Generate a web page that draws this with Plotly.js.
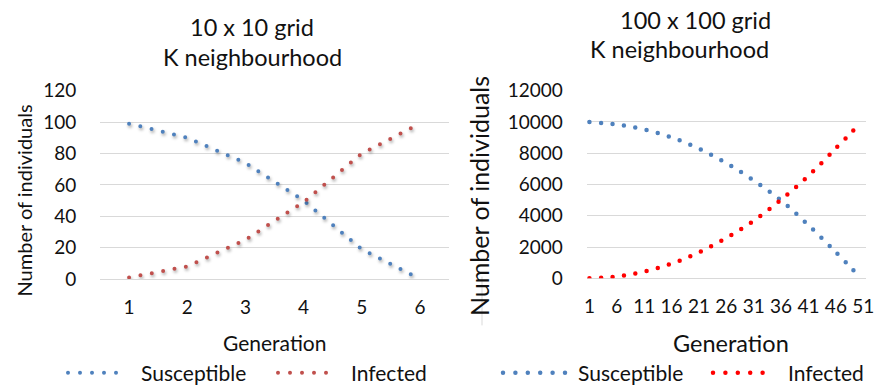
<!DOCTYPE html>
<html>
<head>
<meta charset="utf-8">
<script src="https://cdn.plot.ly/plotly-3.0.1.min.js"></script>
<style>
  html, body { margin: 0; padding: 0; background: #fff; }
  #chart { width: 883px; height: 387px; }
  .scatterlayer path.js-line, .shapelayer path { stroke-linecap: round; }
  .subplot.xy .scatterlayer .trace { filter: drop-shadow(1.5px 2.5px 1.5px rgba(0,0,0,0.35)); }
</style>
</head>
<body>
<div id="chart"></div>
<script>
// Left chart: 10 x 10 grid
const genSmall = [1, 2, 3, 4, 5, 6];
const susceptibleSmall = [99, 90, 74, 50, 19, 0];
const infectedSmall = [1, 8, 25, 49, 80, 99];
const ticksSmall = [1, 2, 3, 4, 5, 6];

// Right chart: 100 x 100 grid
const genLarge = [1, 6, 11, 16, 21, 26, 31, 36, 41, 46, 50];
const susceptibleLarge = [9990, 9840, 9517, 9016, 8290, 7373, 6260, 4981, 3394, 1667, 220];
const infectedLarge = [10, 114, 435, 936, 1663, 2579, 3680, 5026, 6558, 8321, 9753];
const ticksLarge = [1, 6, 11, 16, 21, 26, 31, 36, 41, 46, 51];

const seriesNames = ['Susceptible', 'Infected'];

const W = 883, H = 387;
const px = v => v / W;
const py = v => (H - v) / H;
const FONT = 'Lato, "Open Sans", sans-serif';
const BLUE = '#4F81BD', RED_L = '#C0504D', RED_R = '#FF0000';
const GRID = '#D9D9D9';
const CLEAR = 'rgba(0,0,0,0)';
const TXT = '#111';
const DOTS = '0px,11.55px';

const traces = [
  {x: genSmall, y: susceptibleSmall, name: seriesNames[0], type: 'scatter', mode: 'lines',
   line: {color: BLUE, width: 4, dash: DOTS}, xaxis: 'x', yaxis: 'y'},
  {x: genSmall, y: infectedSmall, name: seriesNames[1], type: 'scatter', mode: 'lines',
   line: {color: RED_L, width: 4, dash: DOTS}, xaxis: 'x', yaxis: 'y'},
  {x: genLarge, y: susceptibleLarge, name: seriesNames[0], type: 'scatter', mode: 'lines',
   line: {color: BLUE, width: 4.5, dash: DOTS, shape: 'spline', smoothing: 1}, xaxis: 'x2', yaxis: 'y2'},
  {x: genLarge, y: infectedLarge, name: seriesNames[1], type: 'scatter', mode: 'lines',
   line: {color: RED_R, width: 4.5, dash: DOTS, shape: 'spline', smoothing: 1}, xaxis: 'x2', yaxis: 'y2'}
];

const xCommon = {showgrid: false, zeroline: false, showline: false, ticks: 'outside', ticklen: 11,
  tickcolor: CLEAR, tickfont: {family: FONT, size: 19, color: TXT}, fixedrange: true, automargin: false};
const yCommon = {showgrid: true, gridcolor: GRID, gridwidth: 1, zeroline: true, zerolinecolor: GRID,
  zerolinewidth: 1, showline: false, ticks: 'outside', ticklen: 19, tickcolor: CLEAR,
  tickformat: 'd', tickfont: {family: FONT, size: 19, color: TXT}, fixedrange: true, automargin: false};

function ann(text, x, y, size, extra) {
  return Object.assign({text: text, x: px(x), y: py(y), xref: 'paper', yref: 'paper',
    xanchor: 'center', yanchor: 'middle', showarrow: false,
    font: {family: FONT, size: size, color: TXT}}, extra || {});
}

// manual legends: dotted sample + label
const legendY = 372.7;
function legendSample(x0, x1, color, width, period) {
  return {type: 'line', xref: 'paper', yref: 'paper', x0: px(x0), x1: px(x1), y0: py(legendY), y1: py(legendY),
    line: {color: color, width: width, dash: '0px,' + period + 'px'}};
}
function legendText(text, x) {
  return ann(text, x, legendY, 21, {xanchor: 'left'});
}

const layout = {
  width: W, height: H,
  margin: {l: 0, r: 0, t: 0, b: 0},
  paper_bgcolor: '#fff', plot_bgcolor: '#fff',
  showlegend: false,
  xaxis: Object.assign({}, xCommon, {domain: [px(100), px(449)], range: [0.5, 6.5], tickvals: ticksSmall, anchor: 'y'}),
  yaxis: Object.assign({}, yCommon, {domain: [py(279), py(90.7)], range: [0, 120], dtick: 20, anchor: 'x'}),
  xaxis2: Object.assign({}, xCommon, {domain: [px(586.7), px(866)], range: [0.5, 51.5], tickvals: ticksLarge, anchor: 'y2'}),
  yaxis2: Object.assign({}, yCommon, {domain: [py(278.3), py(90.7)], range: [0, 12000], dtick: 2000, anchor: 'x2'}),
  annotations: [
    ann('10 x 10 grid', 252, 27, 23.5),
    ann('K neighbourhood', 252, 57, 23.5),
    ann('100 x 100 grid', 695.5, 20, 23.5),
    ann('K neighbourhood', 679, 49, 23.5),
    ann('Number of individuals', 23.5, 201, 20, {textangle: -90}),
    ann('Number of individuals', 479, 196, 25, {textangle: -90}),
    ann('Generation', 274, 342, 21),
    ann('Generation', 731, 343, 23.5),
    legendText(seriesNames[0], 139),
    legendText(seriesNames[1], 349),
    legendText(seriesNames[0], 576),
    legendText(seriesNames[1], 786)
  ],
  shapes: [
    {type: 'line', xref: 'paper', yref: 'paper', x0: px(482), x1: px(482), y0: py(277), y1: py(325),
     line: {color: GRID, width: 1}},
    legendSample(68, 128, BLUE, 4, 12),
    legendSample(278, 338, RED_L, 4, 12),
    legendSample(503, 565, BLUE, 4.5, 12.4),
    legendSample(713, 775, RED_R, 4.5, 12.4)
  ]
};

Plotly.newPlot('chart', traces, layout, {displayModeBar: false, staticPlot: true});
</script>
</body>
</html>
